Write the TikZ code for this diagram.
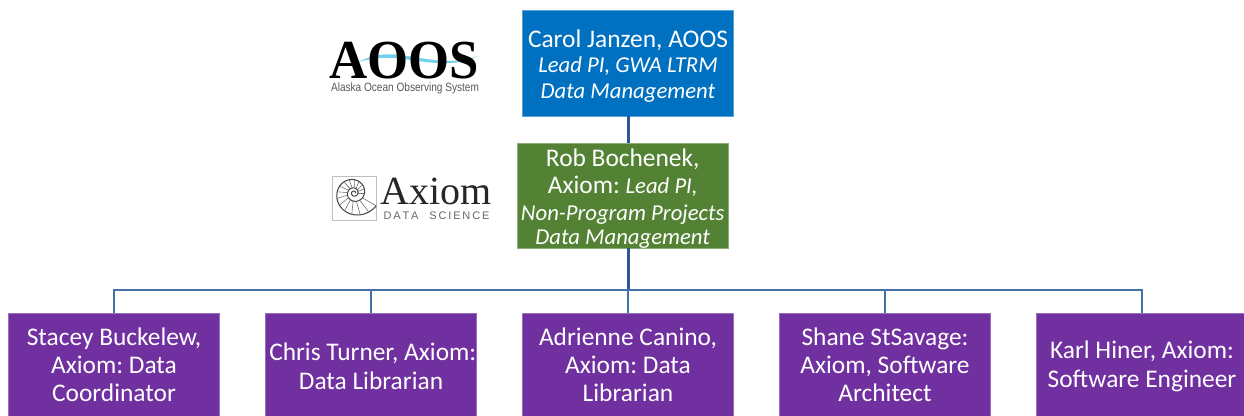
\documentclass[tikz,border=0pt]{standalone}
\usepackage{fontspec}
\setmainfont{Carlito}
\newfontfamily\logoserif{Liberation Serif}
\newfontfamily\logosans{Liberation Sans}
\definecolor{cblue}{HTML}{0070C0}
\definecolor{cgreen}{HTML}{548235}
\definecolor{cpurple}{HTML}{7030A0}
\definecolor{cline}{HTML}{2F5597}
\definecolor{cthin}{HTML}{4472A8}
\tikzset{
  orgbox/.style={rectangle,minimum width=211pt,inner xsep=0pt,inner ysep=-4pt,text=white,align=center,line width=0.8pt},
  bluebox/.style={orgbox,fill=cblue,draw=cblue!65!white,minimum height=106pt},
  greenbox/.style={orgbox,fill=cgreen,draw=cgreen!65!white,minimum height=105pt},
  purplebox/.style={orgbox,fill=cpurple,draw=cpurple!70!white,minimum height=103pt},
  trunk/.style={draw=cline,line width=3pt},
  branch/.style={draw=cthin,line width=1.3pt},
  big/.style={font=\frenchspacing\fontsize{25.4}{28}\selectfont},
}
\newcommand{\itl}[1]{{\fontsize{22.7}{25}\selectfont\itshape #1}}
\newcommand{\topgap}[1]{\rule{0pt}{#1}}
\begin{document}
\begin{tikzpicture}[x=1pt,y=-1pt]
\useasboundingbox (0,0) rectangle (1244,415);
\fill[white] (0,0) rectangle (1244,415);
% nodes
\node[bluebox,big] (carol) at (628,63) {\topgap{24pt}Carol Janzen, AOOS\\[-3pt]\itl{Lead PI, GWA LTRM}\\[-2pt]\itl{Data Management}};
\node[greenbox,big] (rob) at (622.75,195.5) {\topgap{24pt}Rob Bochenek,\\[-1pt]Axiom: \itl{Lead PI,}\\[-1pt]\itl{Non-Program Projects}\\[-4pt]\itl{Data Management}};
\node[purplebox,big] (p1) at (114,364.5) {Stacey Buckelew,\\Axiom: Data\\Coordinator};
\node[purplebox,big] (p2) at (371,364.5) {\topgap{21pt}\hspace{3.5pt}Chris Turner, Axiom:\\[1pt]Data Librarian};
\node[purplebox,big] (p3) at (628,364.5) {Adrienne Canino,\\Axiom: Data\\Librarian};
\node[purplebox,big] (p4) at (885,364.5) {Shane StSavage:\\Axiom, Software\\Architect};
\node[purplebox,big] (p5) at (1142,364.5) {\topgap{21pt}Karl Hiner, Axiom:\\[1pt]Software Engineer};
\coordinate (busc) at (628,290);
% connectors
\draw[trunk] (carol.south) -- (carol.south |- rob.north);
\draw[trunk] (carol.south |- rob.south) -- (busc);
\draw[branch] (p1.north) -- (p1.north |- busc) -- (p5.north |- busc) -- (p5.north);
\draw[branch] (p2.north) -- (p2.north |- busc);
\draw[branch] (p3.north) -- (busc);
\draw[branch] (p4.north) -- (p4.north |- busc);
% AOOS logo
\fill[cblue!60!cyan!55!white] (358,62) .. controls (372,55) and (385,53) .. (400,55) .. controls (425,58) and (450,66) .. (478,56) .. controls (455,68) and (425,62) .. (400,58.5) .. controls (385,57) and (372,58) .. (358,62) -- cycle;
\node[inner sep=0pt,text=black] (aoos) at (404.5,60.5) {\logoserif\fontsize{55}{55}\selectfont\bfseries\scalebox{0.96}[1]{AOOS}};
\node[inner sep=0pt,text=black!65] (aoossub) at (405,88.5) {\logosans\fontsize{12}{12}\selectfont\scalebox{0.84}[1]{Alaska Ocean Observing System}};
% Axiom logo
\node[draw=black!25,line width=0.8pt,fill=white,minimum size=44pt,inner sep=0pt] (axbox) at (354,198) {};
\begin{scope}[shift={(axbox.center)}]
\draw[black!75,line width=1pt,domain=0:1050,samples=160,smooth,variable=\t] plot ({1.5*exp(0.0027*\t)*cos(-\t)},{-5+1.5*exp(0.0027*\t)*sin(-\t)});
\foreach \a in {0,22,...,340}{
  \draw[black!55,line width=0.6pt] ({1.5*exp(0.0027*(\a+360))*cos(-\a)},{-5+1.5*exp(0.0027*(\a+360))*sin(-\a)}) -- ({1.5*exp(0.0027*(\a+720))*cos(-\a)},{-5+1.5*exp(0.0027*(\a+720))*sin(-\a)});
}
\end{scope}
\node[inner sep=0pt,text=black!85] (axname) at (436.5,191.5) {\logoserif\fontsize{40}{40}\selectfont Axiom};
\node[inner sep=0pt,text=black!60] (axsub) at (436.5,216) {\logosans\fontsize{11}{11}\selectfont D\,A\,T\,A\;\;\, S\,C\,I\,E\,N\,C\,E};
\end{tikzpicture}
\end{document}
